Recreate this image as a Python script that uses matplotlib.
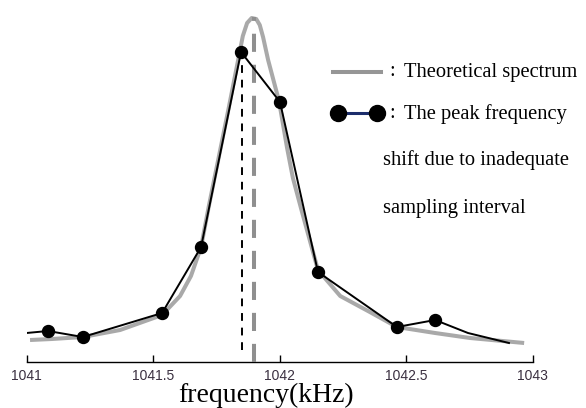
import matplotlib.pyplot as plt
from matplotlib.lines import Line2D

W, H = 586, 408

# theoretical spectrum (kHz, amplitude)
theory_f = [1041.014, 1041.10, 1041.223, 1041.37, 1041.536, 1041.607, 1041.65, 1041.69,
            1041.72, 1041.76, 1041.80, 1041.835, 1041.855, 1041.872, 1041.89,
            1041.908, 1041.922, 1041.935, 1041.955, 1041.998, 1042.03, 1042.053,
            1042.089, 1042.152, 1042.24, 1042.357, 1042.464, 1042.615, 1042.753,
            1042.967]
theory_a = [22, 23, 25, 32, 47, 66, 86, 115,
            155, 205, 255, 300, 326, 339, 344,
            343, 337, 325, 302, 261, 214, 184,
            150, 92, 66, 50, 35, 29, 24,
            19]

# sampled spectrum; first and last two vertices carry no marker
samp_f = [1041.0, 1041.085, 1041.223, 1041.536, 1041.690, 1041.848, 1042.002,
          1042.152, 1042.464, 1042.615, 1042.745, 1042.907]
samp_a = [29, 31, 25, 49, 115, 310, 260, 90, 35, 42, 29, 19]

true_peak = 1041.9
sampled_peak = 1041.852
ticks = [1041, 1041.5, 1042, 1042.5, 1043]
tick_labels = ['1041', '1041.5', '1042', '1042.5', '1043']

fig = plt.figure(figsize=(W / 100, H / 100), dpi=100)
ax = fig.add_axes([26.5 / W, 1 - 362 / H, 506 / W, 362 / H])
ax.set_xlim(1041, 1043)
ax.set_ylim(0, 362)

ax.plot(theory_f, theory_a, color='#a9a9a9', lw=2.9, solid_capstyle='butt', zorder=2)
ax.plot([true_peak, true_peak], [0, 345], color='#8f8f8f', lw=2.9,
        dashes=(4.5, 3.2), clip_on=False, zorder=3)
ax.plot([sampled_peak, sampled_peak], [12, 310], color='black', lw=1.4,
        dashes=(4, 3.5), zorder=3)
ax.plot(samp_f, samp_a, color='black', lw=1.4, zorder=4)
ax.plot(samp_f[1:10], samp_a[1:10], 'o', color='black', ms=8.6, zorder=5)

for side in ['left', 'right', 'top']:
    ax.spines[side].set_visible(False)
ax.spines['bottom'].set_linewidth(1.0)
ax.set_yticks([])
ax.set_xticks(ticks)
ax.set_xticklabels(tick_labels, fontfamily='Liberation Sans', fontsize=10,
                   color='#3a3040')
ax.tick_params(axis='x', direction='in', length=5, width=1.0, pad=5)

fig.text(266 / W, 1 - 402 / H, 'frequency(kHz)', family='Liberation Serif',
         fontsize=20, ha='center', va='baseline')


def fx(px):
    return px / W


def fy(py):
    return 1 - py / H


# hand-drawn legend
fig.add_artist(Line2D([fx(333), fx(381)], [fy(72), fy(72)], color='#969696',
                      lw=2.9, transform=fig.transFigure))
fig.add_artist(Line2D([fx(338), fx(377)], [fy(113), fy(113)], color='#1c2d6b',
                      lw=2.2, marker='o', ms=11.5, mfc='black', mec='black',
                      transform=fig.transFigure))
txt = dict(family='Liberation Serif', fontsize=14.8, va='center')
fig.text(fx(389), fy(72), ':', **txt)
fig.text(fx(404), fy(72), 'Theoretical spectrum', **txt)
fig.text(fx(389), fy(113), ':', **txt)
fig.text(fx(404), fy(114), 'The peak frequency', **txt)
fig.text(fx(383), fy(160), 'shift due to inadequate', **txt)
fig.text(fx(383), fy(208), 'sampling interval', **txt)

fig.savefig('out.png', dpi=100)
